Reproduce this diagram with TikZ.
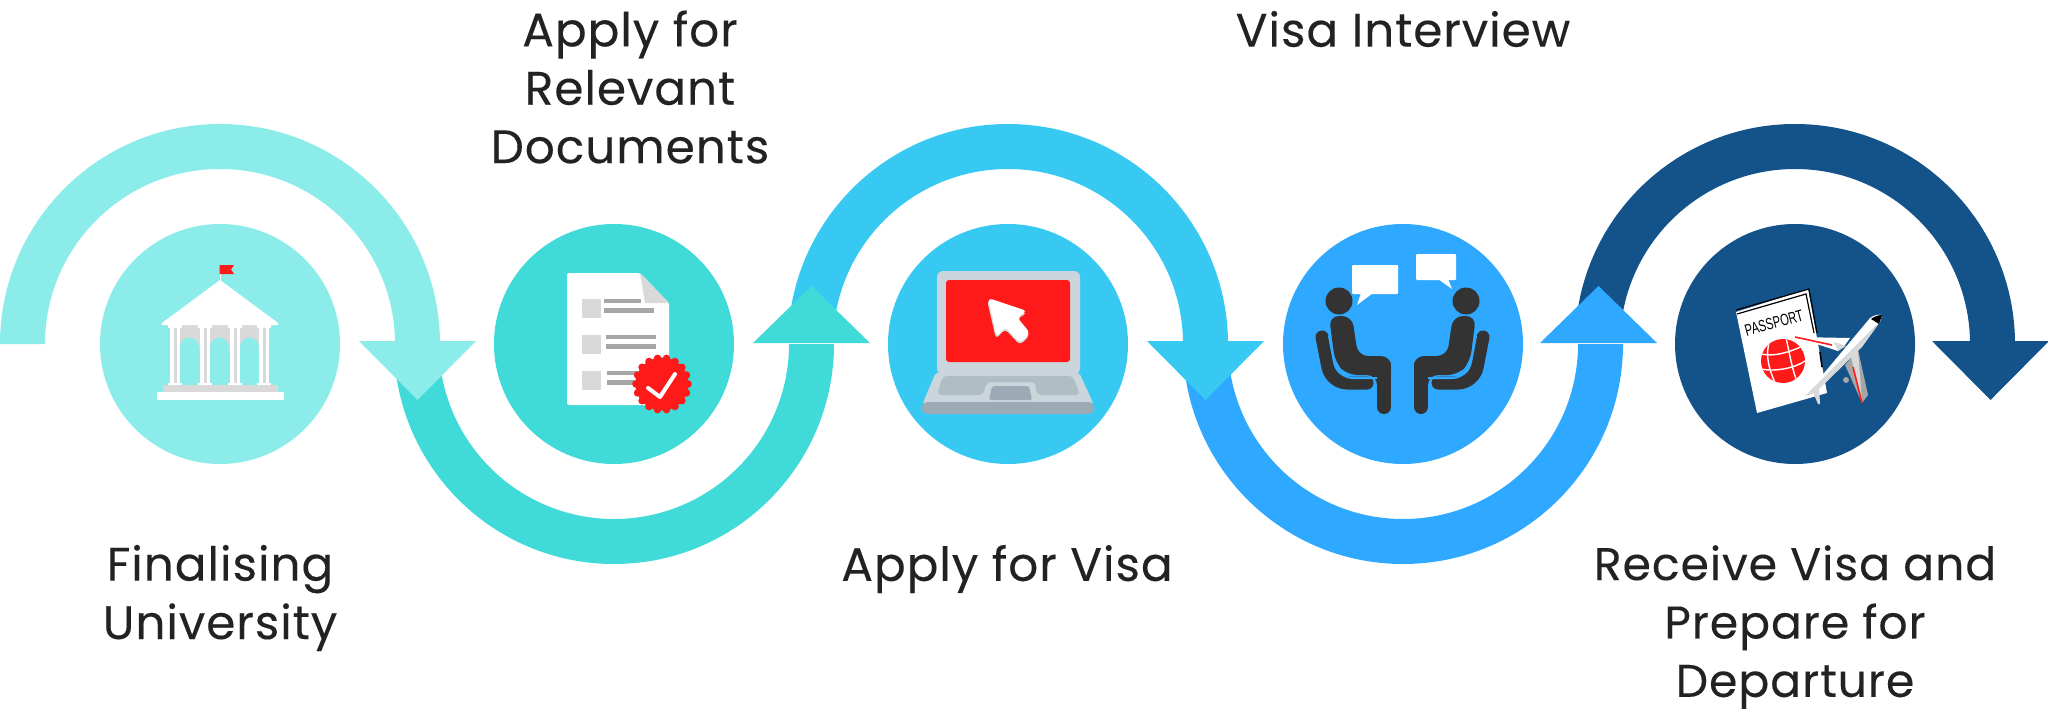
\documentclass[tikz,border=0pt]{standalone}
\usepackage{fontspec}
\setmainfont{Poppins}[LetterSpace=2,FakeBold=0.2]
\newfontfamily\passfont{Liberation Sans}
\usetikzlibrary{calc}
\definecolor{uniblue}{HTML}{8CECE9}
\definecolor{docsblue}{HTML}{40DBD9}
\definecolor{laptopblue}{HTML}{38C9F3}
\definecolor{talkblue}{HTML}{2FA9FF}
\definecolor{passblue}{HTML}{14528A}
\definecolor{iconred}{HTML}{FF1A1A}
\definecolor{icongrey}{HTML}{D9D9D9}
\definecolor{linegrey}{HTML}{A6A6A6}
\definecolor{lidgrey}{HTML}{CBD5DC}
\definecolor{keygrey}{HTML}{AFBDC4}
\definecolor{padgrey}{HTML}{9BAAB4}
\definecolor{persongrey}{HTML}{333333}
\definecolor{textblack}{HTML}{222222}
\tikzset{
  stepdisc/.style={circle, inner sep=0, minimum size=120pt},
  steplabel/.style={align=center, text=textblack, inner sep=0, font=\fontsize{23.5}{29.2}\selectfont},
  globeline/.style={white, line width=0.7pt}
}
\begin{document}
\begin{tikzpicture}[x=0.5pt,y=-0.5pt]
        \useasboundingbox (0,0) rectangle (2048,722);

        % Define center points
        \coordinate (uni_orig) at (220,344);
        \coordinate (docs_orig) at (614,344);
        \coordinate (laptop_orig) at (1008,344);
        \coordinate (talk_orig) at (1403,344);
        \coordinate (pass_orig) at (1795,344);

        % draw the last arrow first, each one lies over the next
        \fill[passblue] ($(pass_orig) + (183:220)$) arc[start angle=183, end angle=360, radius=220] -- ++(-45,0) arc[start angle=360, end angle=183, radius=175] -- cycle;
        \fill[passblue] ($(pass_orig) + (137,-3)$) -- ($(pass_orig) + (254,-3)$) -- ($(pass_orig) + (195.5,56)$) -- cycle;

        \fill[talkblue] ($(talk_orig) + (-220,0)$) arc[start angle=180, end angle=0, radius=220] -- ++(-45,0) arc[start angle=0, end angle=180, radius=175] -- cycle;
        \fill[talkblue] ($(talk_orig) + (137,-1)$) -- ($(talk_orig) + (254,-1)$) -- ($(talk_orig) + (195.5,-58)$) -- cycle;

        \fill[laptopblue] ($(laptop_orig) + (183:220)$) arc[start angle=183, end angle=360, radius=220] -- ++(-45,0) arc[start angle=360, end angle=183, radius=175] -- cycle;
        \fill[laptopblue] ($(laptop_orig) + (139,-3)$) -- ($(laptop_orig) + (256,-3)$) -- ($(laptop_orig) + (197.5,56)$) -- cycle;

        \fill[docsblue] ($(docs_orig) + (-220,0)$) arc[start angle=180, end angle=0, radius=220] -- ++(-45,0) arc[start angle=0, end angle=180, radius=175] -- cycle;
        \fill[docsblue] ($(docs_orig) + (139,-1)$) -- ($(docs_orig) + (256,-1)$) -- ($(docs_orig) + (197.5,-58)$) -- cycle;

        \fill[uniblue] ($(uni_orig) + (-220,0)$) arc[start angle=180, end angle=360, radius=220] -- ++(-45,0) arc[start angle=360, end angle=180, radius=175] -- cycle;
        \fill[uniblue] ($(uni_orig) + (139,-3)$) -- ($(uni_orig) + (256,-3)$) -- ($(uni_orig) + (197.5,56)$) -- cycle;

        % draw the discs
        \node[stepdisc, fill=uniblue] (uni_disc) at (uni_orig) {};
        \node[stepdisc, fill=docsblue] (docs_disc) at (docs_orig) {};
        \node[stepdisc, fill=laptopblue] (laptop_disc) at (laptop_orig) {};
        \node[stepdisc, fill=talkblue] (talk_disc) at (talk_orig) {};
        \node[stepdisc, fill=passblue] (pass_disc) at (pass_orig) {};

        % draw the university
        \fill[white] (219.5,265) rectangle (220.8,282);
        \fill[iconred] (219.5,265) -- (234,265) -- (231,269.5) -- (234,274) -- (219.5,274) -- cycle;
        \fill[icongrey] (180,324) rectangle (260,350);
        \fill[uniblue] (180,385) -- (180,347) arc[start angle=180, end angle=360, radius=9.5] -- (199,385) -- cycle;
        \fill[uniblue] (210,385) -- (210,347) arc[start angle=180, end angle=360, radius=9.5] -- (229,385) -- cycle;
        \fill[uniblue] (240,385) -- (240,347) arc[start angle=180, end angle=360, radius=9.5] -- (259,385) -- cycle;
        \fill[white] (220,280) -- (278,323) -- (278,325) -- (162,325) -- (162,323) -- cycle;
        \foreach \colx in {170,200,230,259} {
          \fill[white] (\colx,326) rectangle ++(10,58);
          \fill[white] (\colx-2,324) rectangle ++(14,4);
          \fill[white] (\colx-2,383) rectangle ++(14,3);
          \fill[icongrey] (\colx+3.5,328) rectangle ++(3,55);
        }
        \fill[icongrey] (163,385) rectangle (278,392);
        \fill[white] (157,392) rectangle (284,400);

        % draw the document
        \fill[white, rounded corners=1pt] (567,273) -- (640,273) -- (669,303) -- (669,405) -- (567,405) -- cycle;
        \fill[icongrey] (640,273) -- (669,303) -- (645,303) -- cycle;
        \fill[icongrey] (582,299) rectangle (601,318);
        \fill[icongrey] (582,335) rectangle (601,354);
        \fill[icongrey] (582,371) rectangle (601,390);
        \fill[linegrey] (604,299) rectangle (641,303);
        \fill[linegrey] (604,308) rectangle (654,313);
        \fill[linegrey] (606,335) rectangle (656,339);
        \fill[linegrey] (606,344) rectangle (656,349);
        \fill[linegrey] (607,371) rectangle (645,375);
        \fill[linegrey] (607,380) rectangle (645,385);
        \fill[iconred] (662,384) circle (26.5);
        \foreach \ang in {0,20,...,340} {
          \fill[iconred] (662,384) ++(\ang:26) circle (3.8);
        }
        \draw[white, line width=2pt, line cap=round, line join=round] (648,388) -- (660,397) -- (675,374);

        % draw the laptop
        \fill[lidgrey, rounded corners=3pt] (937,271) rectangle (1080,374);
        \fill[iconred, rounded corners=1.5pt] (946,280) rectangle (1070,362);
        \fill[lidgrey, rounded corners=2pt] (936,372) -- (1079,372) -- (1094,405) -- (922,405) -- cycle;
        \fill[padgrey, rounded corners=3pt] (922,402) -- (1094,402) -- (1094,414) -- (922,414) -- cycle;
        \fill[keygrey, rounded corners=2pt] (943,376) -- (1073,376) -- (1080,395) -- (1037,395) -- (1035,382) -- (987,382) -- (983,395) -- (937,395) -- cycle;
        \fill[padgrey, rounded corners=1pt] (992,386) -- (1029,386) -- (1032,400) -- (989,400) -- cycle;
        \fill[icongrey, rounded corners=2pt] (987,300) -- (1027,313) -- (1017,319) -- (1030,335) -- (1020,345) -- (1005,329) -- (996,339) -- cycle;
        \fill[white, rounded corners=2pt] (988,298) -- (1027,311) -- (1017,317) -- (1030,333) -- (1020,343) -- (1005,327) -- (997,337) -- cycle;

        % draw the two people and their speech bubbles
        \fill[white, rounded corners=0.5pt] (1352,265) rectangle (1398,294);
        \fill[white] (1361,293) -- (1357,305) -- (1373,293) -- cycle;
        \fill[white, rounded corners=0.5pt] (1416,254) rectangle (1456,280);
        \fill[white] (1438,279) -- (1452,289) -- (1448,279) -- cycle;
        \foreach \flip/\off in {1/0,-1/2805} {
          \begin{scope}[shift={(\off,0)}, xscale=\flip]
            \fill[persongrey] (1339,301) circle (13.5);
            \fill[persongrey, rounded corners=5pt] (1329,316) -- (1352,316) -- (1358,356) -- (1391,356) -- (1391,380) -- (1377,380) -- (1377,375) -- (1347,375) -- (1335,362) -- cycle;
            \draw[persongrey, line width=7pt, line cap=round] (1384,365) -- (1384,407);
            \draw[persongrey, line width=6.5pt, line cap=round, rounded corners=8pt] (1322,337) -- (1331,383) -- (1367,383);
            \draw[talkblue, line width=1pt, rounded corners=8pt] (1329,336) -- (1337,378) -- (1377,378);
          \end{scope}
        }

        % draw the passport
        \fill[white] (1736,312) -- (1808,289) -- (1827,393) -- (1757,413) -- cycle;
        \draw[black, line width=0.6pt] (1736,310) -- (1809,289) -- (1817,333);
        \draw[black, line width=0.6pt] (1737,314) -- (1806,294) -- (1814,333);
        \draw[black, line width=0.8pt] (1820,352) -- (1822,367);
        \node[text=black, rotate=15, xscale=0.68, inner sep=0, font=\passfont\fontsize{8.2}{10}\selectfont] (pass_text) at (1774,323) {PASSPORT};
        \fill[iconred] (1783,361) circle (22);
        \begin{scope}
          \clip (1783,361) circle (22);
          \draw[globeline] (1761,354) .. controls (1775,357) and (1790,352) .. (1805,345);
          \draw[globeline] (1761,369) .. controls (1775,372) and (1795,368) .. (1805,361);
          \draw[globeline] (1770,340) .. controls (1764,355) and (1770,372) .. (1776,385);
          \draw[globeline] (1786,338) .. controls (1790,355) and (1792,370) .. (1798,384);
        \end{scope}

        % draw the plane
        \fill[white] (1850,338) -- (1795,337) -- (1838,351) -- (1845,345) -- cycle;
        \fill[icongrey] (1846,346) -- (1834,342) -- (1838,351) -- cycle;
        \fill[linegrey] (1845,365) -- (1862,403) -- (1868,395) -- (1858,350) -- cycle;
        \fill[icongrey] (1851,357) -- (1862,403) -- (1858,350) -- cycle;
        \fill[linegrey] (1846,380) circle (3);
        \fill[icongrey] (1812,390) -- (1818,404) -- (1820,404) -- (1819,386) -- cycle;
        \fill[white] (1805,396) -- (1870,318) .. controls (1874,315) and (1879,314) .. (1882,315) -- (1880,322) -- cycle;
        \fill[icongrey] (1805,396) -- (1880,322) -- (1862,347) -- (1815,393) -- cycle;
        \fill[black] (1871,319) .. controls (1875,316) and (1879,315) .. (1882,315) -- (1879,324) -- cycle;
        \draw[iconred, line width=0.8pt] (1795,337) -- (1832,345);
        \draw[iconred, line width=0.8pt] (1853,367) -- (1862,403);

        % add the labels
        \node[steplabel] (uni_label) at (220,598) {Finalising\\University};
        \node[steplabel] (docs_label) at (630,87) {Apply for\\Relevant\\Documents};
        \node[steplabel] (laptop_label) at (1007,569) {Apply for Visa};
        \node[steplabel] (talk_label) at (1403,29) {Visa Interview};
        \node[steplabel, font=\fontsize{22.9}{29.2}\selectfont] (pass_label) at (1795,627) {Receive Visa and\\Prepare for\\Departure};
      \end{tikzpicture}
\end{document}
